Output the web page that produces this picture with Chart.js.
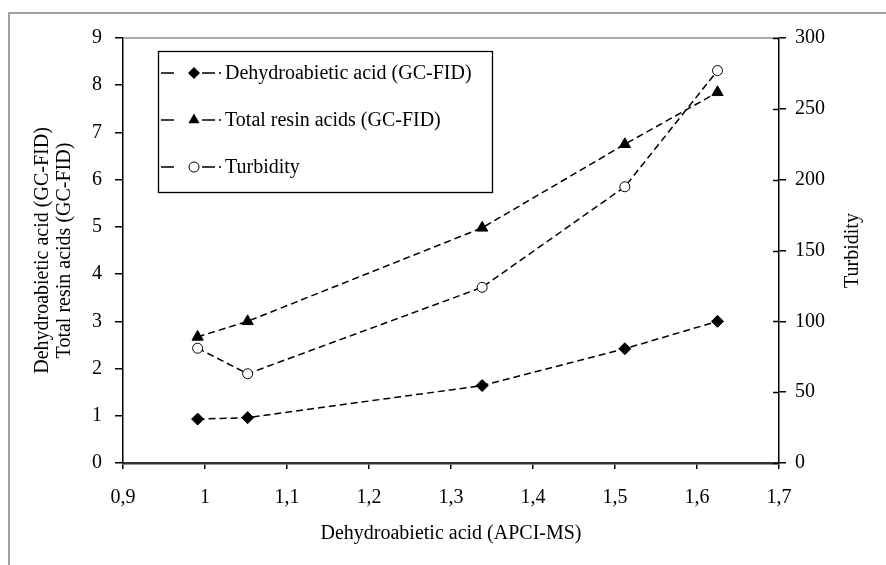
<!DOCTYPE html>
<html>
<head>
<meta charset="utf-8">
<script src="https://cdn.jsdelivr.net/npm/chart.js@4.4.1/dist/chart.umd.min.js"></script>
<style>
  html, body { margin: 0; padding: 0; background: #fff; }
  canvas { display: block; }
</style>
</head>
<body>
<canvas id="chart" width="886" height="565"></canvas>
<script>
// data
const apciMs = [0.991, 1.052, 1.338, 1.512, 1.625];
const dehydroGcFid = [0.93, 0.96, 1.64, 2.42, 3.0];
const totalResin = [2.67, 3.0, 4.98, 6.75, 7.85];
const turbidity = [81, 63, 124, 195, 277];

const xTickLabels = ['0,9', '1', '1,1', '1,2', '1,3', '1,4', '1,5', '1,6', '1,7'];
const leftTickLabels = ['0', '1', '2', '3', '4', '5', '6', '7', '8', '9'];
const rightTickLabels = ['0', '50', '100', '150', '200', '250', '300'];
const seriesNames = ['Dehydroabietic acid (GC-FID)', 'Total resin acids (GC-FID)', 'Turbidity'];

const FONT = 'Liberation Serif';
const toPoints = (ys) => apciMs.map((x, i) => ({ x: x, y: ys[i] }));

function drawMarker(ctx, style, x, y, r) {
  ctx.save();
  ctx.beginPath();
  if (style === 'rectRot') {
    ctx.moveTo(x, y - r); ctx.lineTo(x + r, y); ctx.lineTo(x, y + r); ctx.lineTo(x - r, y);
    ctx.closePath();
    ctx.fillStyle = '#000'; ctx.fill();
  } else if (style === 'triangle') {
    ctx.moveTo(x, y - r); ctx.lineTo(x + r * 0.87, y + r * 0.5); ctx.lineTo(x - r * 0.87, y + r * 0.5);
    ctx.closePath();
    ctx.fillStyle = '#000'; ctx.fill();
  } else {
    ctx.arc(x, y, r, 0, Math.PI * 2);
    ctx.fillStyle = '#fff'; ctx.fill();
    ctx.lineWidth = 1; ctx.strokeStyle = '#000'; ctx.stroke();
  }
  ctx.restore();
}

const decor = {
  id: 'decor',
  beforeDraw(chart) {
    const ctx = chart.ctx;
    ctx.save();
    ctx.strokeStyle = '#a0a0a0';
    ctx.lineWidth = 2;
    ctx.strokeRect(9, 13, 1200, 1200);
    ctx.restore();
  },
  afterDraw(chart) {
    const ctx = chart.ctx;
    const a = chart.chartArea;
    ctx.save();
    // top border of the plot area
    ctx.strokeStyle = '#8c8c8c';
    ctx.lineWidth = 1.5;
    ctx.beginPath();
    ctx.moveTo(a.left, a.top); ctx.lineTo(a.right, a.top);
    ctx.stroke();

    // right axis ticks also reach inside
    const y2 = chart.scales.y2;
    ctx.strokeStyle = '#000';
    ctx.lineWidth = 1.5;
    y2.ticks.forEach((t) => {
      const py = Math.round(y2.getPixelForValue(t.value)) + 0.5;
      ctx.beginPath();
      ctx.moveTo(a.right - 6, py); ctx.lineTo(a.right, py);
      ctx.stroke();
    });

    // right axis title, reading bottom to top
    ctx.fillStyle = '#000';
    ctx.font = '20px "' + FONT + '"';
    ctx.textAlign = 'center';
    ctx.textBaseline = 'middle';
    ctx.translate(853, (a.top + a.bottom) / 2);
    ctx.rotate(-Math.PI / 2);
    ctx.fillText(seriesNames[2], 0, 0);
    ctx.restore();

    // legend box inside the plot
    ctx.save();
    ctx.strokeStyle = '#000';
    ctx.lineWidth = 1.3;
    ctx.strokeRect(158.5, 51.5, 334, 141);
    const rows = [73, 120, 167];
    chart.data.datasets.forEach((ds, i) => {
      const y = rows[i];
      ctx.strokeStyle = '#000';
      ctx.lineWidth = 1.4;
      ctx.beginPath();
      ctx.moveTo(161, y); ctx.lineTo(174, y);
      ctx.moveTo(202, y); ctx.lineTo(215, y);
      ctx.moveTo(219, y); ctx.lineTo(221, y);
      ctx.stroke();
      drawMarker(ctx, ds.pointStyle, 194, y, ds.pointRadius);
      ctx.fillStyle = '#000';
      ctx.font = '20px "' + FONT + '"';
      ctx.textAlign = 'left';
      ctx.textBaseline = 'middle';
      ctx.fillText(ds.label, 225, y + 1);
    });
    ctx.restore();
  }
};

const lineStyle = {
  showLine: true,
  borderColor: '#000',
  borderWidth: 1.5,
  borderDash: [7, 4],
  pointBorderColor: '#000',
  pointBorderWidth: 1,
  tension: 0
};

new Chart(document.getElementById('chart'), {
  type: 'scatter',
  data: {
    datasets: [
      Object.assign({}, lineStyle, {
        label: seriesNames[0], data: toPoints(dehydroGcFid), yAxisID: 'y',
        pointStyle: 'rectRot', pointRadius: 6, pointBackgroundColor: '#000'
      }),
      Object.assign({}, lineStyle, {
        label: seriesNames[1], data: toPoints(totalResin), yAxisID: 'y',
        pointStyle: 'triangle', pointRadius: 6.5, pointBackgroundColor: '#000'
      }),
      Object.assign({}, lineStyle, {
        label: seriesNames[2], data: toPoints(turbidity), yAxisID: 'y2',
        pointStyle: 'circle', pointRadius: 5, pointBackgroundColor: '#fff'
      })
    ]
  },
  options: {
    responsive: false,
    animation: false,
    devicePixelRatio: 1,
    layout: { padding: { top: 38, left: 0, right: 0, bottom: 0 } },
    plugins: { legend: { display: false }, tooltip: { enabled: false } },
    font: { family: FONT, size: 20 },
    scales: {
      x: {
        type: 'linear', position: 'bottom', min: 0.9, max: 1.7,
        afterFit: (s) => { s.height = 102; },
        ticks: {
          stepSize: 0.1, color: '#000', padding: 17,
          font: { family: FONT, size: 20 },
          callback: (v, i) => xTickLabels[i]
        },
        grid: { drawOnChartArea: false, drawTicks: true, tickLength: 6, color: '#000', lineWidth: 1.5 },
        border: { color: '#333', width: 2.5 },
        title: {
          display: true, text: 'Dehydroabietic acid (APCI-MS)', color: '#000',
          font: { family: FONT, size: 20, lineHeight: 1.2 },
          padding: { top: 0, bottom: 19 }
        }
      },
      y: {
        type: 'linear', position: 'left', min: 0, max: 9,
        afterFit: (s) => { s.width = 123; },
        ticks: {
          stepSize: 1, color: '#000', padding: 13,
          font: { family: FONT, size: 20 },
          callback: (v, i) => leftTickLabels[i]
        },
        grid: { drawOnChartArea: false, drawTicks: true, tickLength: 8, color: '#000', lineWidth: 1.5 },
        border: { color: '#000', width: 1.5 },
        title: {
          display: true, text: [seriesNames[0], seriesNames[1]], color: '#000',
          font: { family: FONT, size: 20, lineHeight: '22px' },
          padding: { top: 32, bottom: 0 }
        }
      },
      y2: {
        type: 'linear', position: 'right', min: 0, max: 300,
        afterFit: (s) => { s.width = 107; },
        ticks: {
          stepSize: 50, color: '#000', padding: 9,
          font: { family: FONT, size: 20 },
          callback: (v, i) => rightTickLabels[i]
        },
        grid: { drawOnChartArea: false, drawTicks: true, tickLength: 7, color: '#000', lineWidth: 1.5 },
        border: { color: '#000', width: 1.5 }
      }
    }
  },
  plugins: [decor]
});
</script>
</body>
</html>
